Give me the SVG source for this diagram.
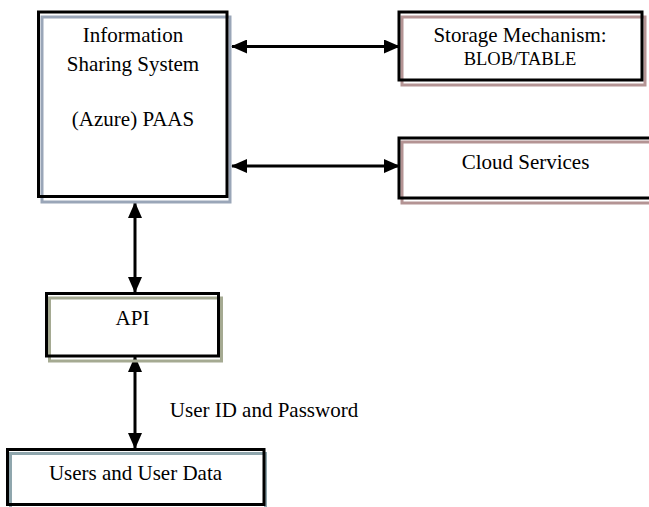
<svg xmlns="http://www.w3.org/2000/svg" width="649" height="507" viewBox="0 0 649 507">
<style>
  .box { fill: none; stroke: #000; stroke-width: 3; }
  .sh { fill: none; stroke-width: 3; }
  .t { font-family: "Liberation Serif", "Times New Roman", serif; font-size: 21px; fill: #000; text-anchor: middle; }
  .conn { stroke: #000; stroke-width: 3; fill: none; marker-start: url(#ah); marker-end: url(#ah); }
</style>
<defs>
  <marker id="ah" viewBox="0 0 16 14" refX="15" refY="7" markerWidth="16" markerHeight="14" markerUnits="userSpaceOnUse" orient="auto-start-reverse">
    <path d="M0,0 L16,7 L0,14 Z" fill="#000"/>
  </marker>
</defs>
<rect width="649" height="507" fill="#fff"/>
<g id="connectors">
  <line class="conn" x1="232" y1="46.5" x2="399" y2="46.5"/>
  <line class="conn" x1="232" y1="166" x2="399" y2="166"/>
  <line class="conn" x1="135" y1="203" x2="135" y2="292"/>
  <line class="conn" x1="135" y1="357" x2="135" y2="448"/>
</g>
<g id="info-system">
  <rect class="sh" x="42" y="17" width="188" height="185" stroke="#9aa6b8"/>
  <rect class="box" x="38.5" y="12" width="188.5" height="184.5"/>
  <text class="t" x="133" y="42">Information</text>
  <text class="t" x="133" y="71">Sharing System</text>
  <text class="t" x="133" y="126">(Azure) PAAS</text>
</g>
<g id="storage">
  <rect class="sh" x="402" y="17" width="243" height="68" stroke="#b49494"/>
  <rect class="box" x="399" y="12" width="243" height="68"/>
  <text class="t" x="520" y="42">Storage Mechanism:</text>
  <text class="t" x="520" y="65" style="font-size:18.5px">BLOB/TABLE</text>
</g>
<g id="cloud">
  <rect class="sh" x="402" y="142" width="252" height="61" stroke="#b49494"/>
  <rect class="box" x="399" y="138" width="255" height="60"/>
  <text class="t" x="525.5" y="169">Cloud Services</text>
</g>
<g id="api">
  <rect class="sh" x="49.5" y="298" width="172" height="63" stroke="#a5aa92"/>
  <rect class="box" x="46.5" y="293.5" width="172" height="62.5"/>
  <text class="t" x="132.5" y="325">API</text>
</g>
<g id="users">
  <rect class="sh" x="10.5" y="453.5" width="255" height="56" stroke="#8fa6ad"/>
  <rect class="box" x="7.5" y="449.5" width="256.5" height="55"/>
  <text class="t" x="135.5" y="480">Users and User Data</text>
</g>
<text class="t" x="264" y="417">User ID and Password</text>
</svg>
